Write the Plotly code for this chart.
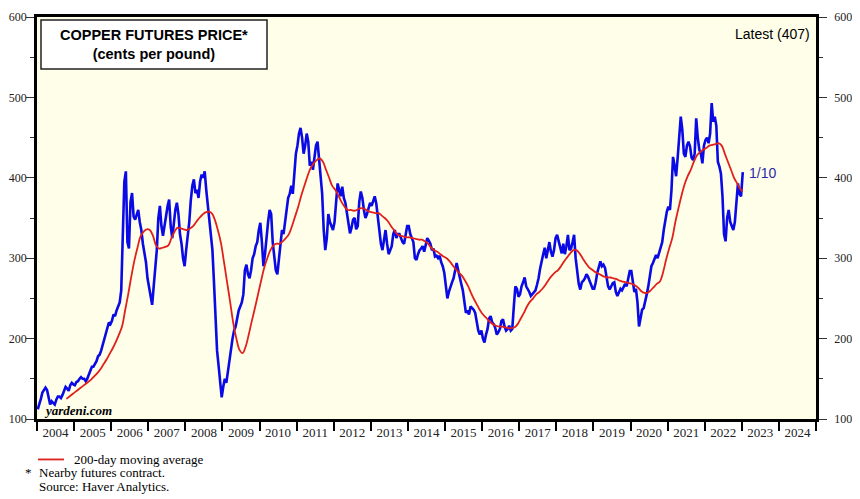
import plotly.graph_objs as go

# - - Precio de futuros del cobre (centavos por libra), lecturas quincenales
blue_2004 = [112, 118, 125, 133, 137, 139, 136, 128, 118, 122, 120, 118,
             124, 128, 128, 126, 130, 134, 140, 138, 135, 142, 145, 143]
blue_2005 = [142, 146, 147, 150, 152, 150, 150, 147, 150, 155, 160, 165,
             165, 168, 172, 178, 180, 185, 192, 198, 205, 212, 220, 218]
blue_2006 = [222, 230, 228, 235, 240, 245, 260, 320, 395, 408, 320, 312,
             370, 381, 352, 348, 355, 360, 345, 335, 318, 305, 295, 275]
blue_2007 = [262, 250, 242, 265, 290, 310, 350, 365, 340, 328, 340, 355,
             365, 373, 340, 325, 345, 360, 369, 355, 330, 318, 300, 290]
blue_2008 = [310, 327, 345, 372, 390, 398, 381, 385, 375, 395, 404, 400,
             408, 385, 365, 350, 330, 310, 270, 220, 185, 166, 150, 127]
blue_2009 = [140, 150, 145, 160, 170, 185, 200, 210, 215, 225, 235, 240,
             245, 255, 285, 292, 280, 275, 285, 300, 305, 315, 320, 335]
blue_2010 = [344, 320, 290, 305, 330, 345, 360, 355, 320, 300, 285, 280,
             300, 320, 335, 330, 345, 360, 375, 380, 390, 380, 410, 430]
blue_2011 = [440, 455, 462, 450, 430, 440, 455, 445, 415, 420, 410, 425,
             440, 445, 420, 400, 380, 335, 310, 325, 355, 345, 340, 335]
blue_2012 = [345, 375, 393, 385, 377, 389, 375, 369, 355, 340, 331, 338,
             348, 350, 336, 340, 370, 383, 375, 360, 350, 355, 362, 369]
blue_2013 = [365, 372, 377, 368, 350, 340, 318, 310, 325, 335, 318, 305,
             310, 315, 330, 335, 325, 330, 330, 325, 320, 318, 330, 340]
blue_2014 = [340, 330, 325, 320, 300, 298, 305, 310, 312, 315, 308, 318,
             325, 322, 318, 310, 312, 302, 303, 300, 303, 295, 290, 282]
blue_2015 = [265, 250, 258, 265, 270, 275, 285, 294, 285, 275, 268, 260,
             245, 232, 235, 230, 240, 238, 236, 232, 220, 210, 205, 210]
blue_2016 = [200, 195, 205, 212, 225, 228, 220, 218, 213, 205, 208, 212,
             222, 224, 215, 210, 212, 216, 210, 212, 240, 265, 262, 252]
blue_2017 = [255, 265, 270, 276, 265, 262, 258, 253, 255, 258, 260, 267,
             275, 287, 298, 305, 313, 300, 310, 320, 308, 302, 310, 325]
blue_2018 = [329, 320, 315, 306, 318, 305, 315, 329, 310, 312, 320, 329,
             300, 282, 268, 261, 270, 272, 275, 280, 277, 272, 268, 262]
blue_2019 = [262, 270, 282, 290, 296, 290, 292, 288, 275, 265, 261, 265,
             269, 270, 258, 253, 258, 262, 260, 265, 268, 265, 275, 284]
blue_2020 = [284, 270, 258, 262, 245, 215, 225, 236, 238, 245, 255, 265,
             280, 290, 294, 298, 304, 300, 306, 312, 320, 335, 350, 358]
blue_2021 = [364, 360, 385, 426, 415, 402, 425, 450, 476, 460, 430, 426,
             440, 445, 439, 425, 422, 430, 474, 450, 435, 430, 418, 440]
blue_2022 = [447, 450, 443, 455, 493, 470, 476, 465, 420, 414, 405, 377,
             330, 321, 350, 360, 345, 340, 335, 345, 370, 393, 380, 377]
blue_2023 = [407]   # 10 de enero de 2023

# - - Promedio movil de 200 dias, lecturas mensuales desde oct-2004
red_2004 = [125, 128, 131]
red_2005 = [134, 137, 140, 143, 146, 149, 153, 157, 162, 168, 174, 181]
red_2006 = [188, 196, 205, 215, 235, 255, 277, 297, 313, 327, 333, 336]
red_2007 = [335, 328, 316, 312, 313, 314, 316, 325, 333, 338, 337, 336]
red_2008 = [335, 337, 340, 345, 350, 354, 357, 358, 356, 348, 335, 319]
red_2009 = [295, 270, 245, 219, 200, 186, 182, 190, 205, 222, 238, 255]
red_2010 = [272, 288, 300, 310, 316, 318, 318, 321, 325, 330, 340, 352]
red_2011 = [364, 378, 390, 402, 412, 418, 422, 424, 420, 410, 400, 390]
red_2012 = [385, 378, 370, 364, 360, 360, 359, 360, 362, 362, 360, 358]
red_2013 = [357, 356, 356, 353, 350, 346, 340, 335, 330, 328, 327, 326]
red_2014 = [326, 325, 324, 323, 323, 321, 318, 313, 310, 308, 305, 302]
red_2015 = [300, 296, 291, 286, 282, 278, 272, 265, 256, 248, 241, 234]
red_2016 = [229, 225, 221, 218, 216, 215, 215, 214, 213, 213, 214, 218]
red_2017 = [225, 232, 240, 246, 250, 255, 258, 262, 267, 273, 278, 282]
red_2018 = [285, 290, 296, 301, 306, 310, 310, 306, 300, 294, 289, 286]
red_2019 = [283, 281, 279, 277, 276, 276, 275, 274, 272, 271, 270, 269]
red_2020 = [268, 266, 263, 259, 257, 257, 260, 264, 268, 271, 282, 298]
red_2021 = [312, 325, 345, 362, 378, 392, 402, 410, 420, 428, 432, 435]
red_2022 = [437, 440, 441, 442, 443, 440, 430, 420, 410, 400, 393, 386]
red_2023 = [383]

years = list(range(2004, 2025))
year_labels = [str(y) for y in years]

blue_years = [blue_2004, blue_2005, blue_2006, blue_2007, blue_2008, blue_2009,
              blue_2010, blue_2011, blue_2012, blue_2013, blue_2014, blue_2015,
              blue_2016, blue_2017, blue_2018, blue_2019, blue_2020, blue_2021,
              blue_2022]
red_years = [red_2005, red_2006, red_2007, red_2008, red_2009, red_2010,
             red_2011, red_2012, red_2013, red_2014, red_2015, red_2016,
             red_2017, red_2018, red_2019, red_2020, red_2021, red_2022]

# Fechas como anio decimal
bx, by = [], []
for k, vals in enumerate(blue_years):
    for i, v in enumerate(vals):
        bx.append(2004 + k + (i + 0.5) / 24)
        by.append(v)
bx.append(2023 + 9.5 / 365)
by.extend(blue_2023)

rx, ry = [], []
for i, v in enumerate(red_2004):
    rx.append(2004 + (i + 9.5) / 12)
    ry.append(v)
for k, vals in enumerate(red_years):
    for i, v in enumerate(vals):
        rx.append(2005 + k + (i + 0.5) / 12)
        ry.append(v)
rx.append(2023 + 9.5 / 365)
ry.extend(red_2023)

# - - Geometria en pixeles (coordenadas de la imagen de referencia);
#     la pagina agrega 8px de margen al body, se descuentan
OFF = 8
W, H = 860 - OFF, 499 - OFF
L, R, T, B = 37, 816, 17, 419.5


def px(x):
    return (x - L) / (R - L)


def py(y):
    return (B - y) / (B - T)


serif = "Liberation Serif"
sans = "Liberation Sans"

fig = go.Figure()

fig.add_trace(go.Scatter(x=bx, y=by, mode="lines",
                         line=dict(color="#0a0ae6", width=2.6),
                         hoverinfo="x+y"))
fig.add_trace(go.Scatter(x=rx, y=ry, mode="lines", yaxis="y2",
                         line=dict(color="#e0201c", width=1.8, shape="spline"),
                         hoverinfo="x+y"))

axis_font = dict(family=serif, size=12, color="#222222")
y_common = dict(range=[100, 600], dtick=100, showgrid=False, zeroline=False,
                automargin=False, ticks="outside", ticklen=8, tickwidth=1,
                tickcolor="#333333", tickfont=axis_font,
                showline=True, linecolor="black", linewidth=2.5,
                minor=dict(dtick=50, ticks="outside", ticklen=4,
                           tickcolor="#333333"))

fig.update_layout(
    width=W, height=H,
    margin=dict(l=L - OFF, r=860 - R, t=T - OFF, b=499 - B),
    paper_bgcolor="white",
    plot_bgcolor="#fffee8",
    showlegend=False,
    xaxis=dict(range=[2004, 2025], showgrid=False, zeroline=False,
               automargin=False,
               tickvals=[y + 0.5 for y in years], ticktext=year_labels,
               ticks="", tickfont=dict(family=serif, size=13, color="#222222"),
               showline=True, linecolor="black", linewidth=2.5, mirror=True,
               minor=dict(tickvals=years + [2025], ticks="outside", ticklen=9,
                          tickwidth=2, tickcolor="black")),
    yaxis=dict(**y_common, ticklabelstandoff=-3),
    yaxis2=dict(**y_common, ticklabelstandoff=5, overlaying="y",
                side="right", matches="y"),
)


def note(x, y, text, size=13, family=serif, color="black", xanchor="left"):
    fig.add_annotation(xref="paper", yref="paper", x=px(x), y=py(y),
                       text=text, showarrow=False, xanchor=xanchor,
                       yanchor="middle", align="center",
                       font=dict(family=family, size=size, color=color))


# Caja del titulo
fig.add_shape(type="rect", xref="paper", yref="paper",
              x0=px(41), x1=px(267), y0=py(69), y1=py(20),
              fillcolor="white", line=dict(color="#222222", width=1.5))
note(154, 44.5, "<b>COPPER FUTURES PRICE*</b><br><b>(cents per pound)</b>",
     size=14.5, family=sans, xanchor="center")

note(812, 34, "Latest (407)", size=14, family=sans, xanchor="right")
note(747, 173, "1/10", size=14, family=sans, color="#2a2aa8")
note(42, 411, "<b><i>yardeni.com</i></b>", size=13)

# Leyenda y notas al pie
fig.add_shape(type="line", xref="paper", yref="paper",
              x0=px(38), x1=px(64), y0=py(460), y1=py(460),
              line=dict(color="#e0201c", width=1.8))
note(72, 460, "200-day moving average")
note(23, 473, "*")
note(37, 473, "Nearby futures contract.")
note(37, 487, "Source: Haver Analytics.")

fig.write_html("out.html")
